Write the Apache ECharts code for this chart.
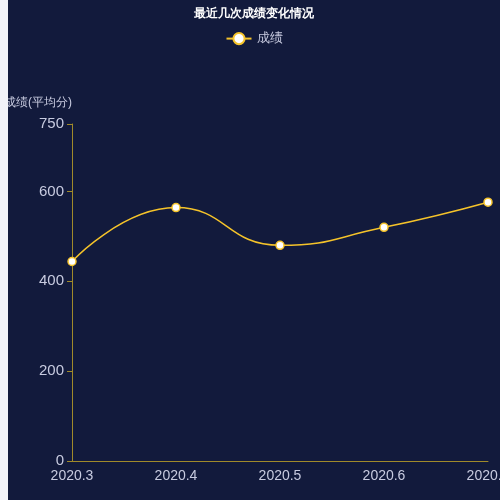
<!DOCTYPE html>
<html><head><meta charset="utf-8">
<script src="https://cdn.jsdelivr.net/npm/echarts@6/dist/echarts.min.js"></script>
<style>html,body{margin:0;padding:0;background:#f2f3f8;}#c{position:absolute;left:8px;top:0;width:492px;height:500px;background:#121a3c;overflow:hidden;}</style>
</head><body><div id="c"></div>
<script>
const categories=['2020.3','2020.4','2020.5','2020.6','2020.7'];
const scores=[444,564,480,520,576];
const chart=echarts.init(document.getElementById('c'));
chart.setOption({
  backgroundColor:'#121a3c',
  title:{text:'最近几次成绩变化情况',left:'center',top:3,textStyle:{color:'#fff',fontSize:12,fontWeight:'bold'}},
  legend:{data:['成绩'],top:27,left:'center',textStyle:{color:'#c8cbe0',fontSize:13}},
  grid:{left:64,right:12,top:124,bottom:39,outerBoundsMode:'none',containLabel:false},
  xAxis:{type:'category',data:categories,boundaryGap:false,
    axisLine:{lineStyle:{color:'#a08a2a'}},axisTick:{show:false},
    axisLabel:{color:'#c8cbe0',fontSize:14}},
  yAxis:{type:'value',min:0,max:750,interval:200,name:'成绩(平均分)',
    nameTextStyle:{color:'#c8cbe0',fontSize:12,align:'right'},nameGap:15,
    axisLine:{show:true,lineStyle:{color:'#a08a2a'}},axisTick:{show:true,lineStyle:{color:'#a08a2a'}},
    splitLine:{show:false},axisLabel:{color:'#c8cbe0',fontSize:15,showMaxLabel:true}},
  series:[{name:'成绩',type:'line',smooth:true,data:scores,symbol:'circle',symbolSize:8,
    lineStyle:{color:'#f5c32a',width:1.5},itemStyle:{color:'#fff',borderColor:'#f5c32a',borderWidth:1.5}}]
});
</script></body></html>
